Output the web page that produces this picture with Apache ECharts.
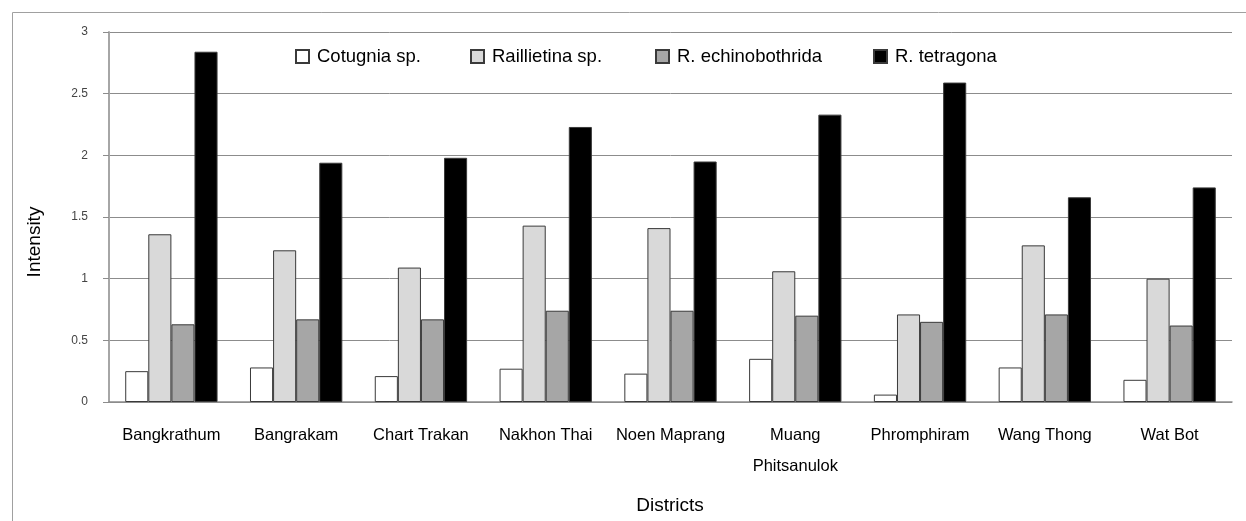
<!DOCTYPE html>
<html>
<head>
<meta charset="utf-8">
<script src="https://cdn.jsdelivr.net/npm/echarts@6/dist/echarts.min.js"></script>
<style>
  html, body { margin: 0; padding: 0; background: #fff; }
  #chart { width: 1246px; height: 521px; }
</style>
</head>
<body>
<div id="chart"></div>
<script>
// districts on the x axis
var districts = ['Bangkrathum', 'Bangrakam', 'Chart Trakan', 'Nakhon Thai', 'Noen Maprang',
  'Muang\nPhitsanulok', 'Phromphiram', 'Wang Thong', 'Wat Bot'];
var yTicks = [0, 0.5, 1, 1.5, 2, 2.5, 3];
var species = ['Cotugnia sp.', 'Raillietina sp.', 'R. echinobothrida', 'R. tetragona'];

// intensity per species
var cotugnia = [0.25, 0.28, 0.21, 0.27, 0.23, 0.35, 0.06, 0.28, 0.18];
var raillietina = [1.36, 1.23, 1.09, 1.43, 1.41, 1.06, 0.71, 1.27, 1.00];
var echinobothrida = [0.63, 0.67, 0.67, 0.74, 0.74, 0.70, 0.65, 0.71, 0.62];
var tetragona = [2.84, 1.94, 1.98, 2.23, 1.95, 2.33, 2.59, 1.66, 1.74];

var font = '"Liberation Sans", Arial, sans-serif';

function bar(name, data, color) {
  return {
    name: name,
    type: 'bar',
    data: data,
    barGap: 0,
    barCategoryGap: '26%',
    itemStyle: { color: color, borderColor: '#3a3a3a', borderWidth: 1 }
  };
}

// one legend per item so each sits where the original has it
var legendLeft = [290, 465, 650, 868];
var legends = species.map(function (s, i) {
  return {
    left: legendLeft[i], top: 42,
    icon: 'rect',
    itemWidth: 13, itemHeight: 13,
    textStyle: { fontSize: 18.5, color: '#000', fontFamily: font, padding: [0, 0, 0, 3] },
    data: [s]
  };
});

var chart = echarts.init(document.getElementById('chart'));
chart.setOption({
  animation: false,
  textStyle: { fontFamily: font },
  grid: { left: 109, right: 14, top: 32, bottom: 119 },
  legend: legends,
  xAxis: {
    type: 'category',
    data: districts,
    axisLine: { lineStyle: { color: '#8c8c8c', width: 1.5 } },
    axisTick: { show: false },
    axisLabel: { interval: 0, color: '#000', fontSize: 16.5, margin: 18, lineHeight: 31, fontFamily: font }
  },
  yAxis: {
    type: 'value',
    min: 0, max: 3, interval: 0.5,
    axisLine: { show: true, lineStyle: { color: '#a6a6a6', width: 2 } },
    axisTick: { show: true, length: 6, lineStyle: { color: '#8c8c8c' } },
    splitLine: { lineStyle: { color: '#8c8c8c', width: 1 } },
    axisLabel: {
      color: '#444', fontSize: 12, margin: 21, fontFamily: font,
      formatter: function (v) { return yTicks.indexOf(v) >= 0 ? String(v) : ''; }
    }
  },
  graphic: [
    { type: 'rect', left: 10, top: 10, shape: { width: 1300, height: 600 },
      style: { fill: 'none', stroke: '#a0a0a0', lineWidth: 1 }, silent: true },
    { type: 'text', x: 35, y: 242, rotation: Math.PI / 2,
      style: { text: 'Intensity', font: '19px ' + font, fill: '#000', align: 'center', verticalAlign: 'middle' } },
    { type: 'text', x: 670, y: 506,
      style: { text: 'Districts', font: '19px ' + font, fill: '#000', align: 'center', verticalAlign: 'middle' } }
  ],
  series: [
    bar(species[0], cotugnia, '#ffffff'),
    bar(species[1], raillietina, '#d9d9d9'),
    bar(species[2], echinobothrida, '#a6a6a6'),
    bar(species[3], tetragona, '#000000')
  ]
});
</script>
</body>
</html>
